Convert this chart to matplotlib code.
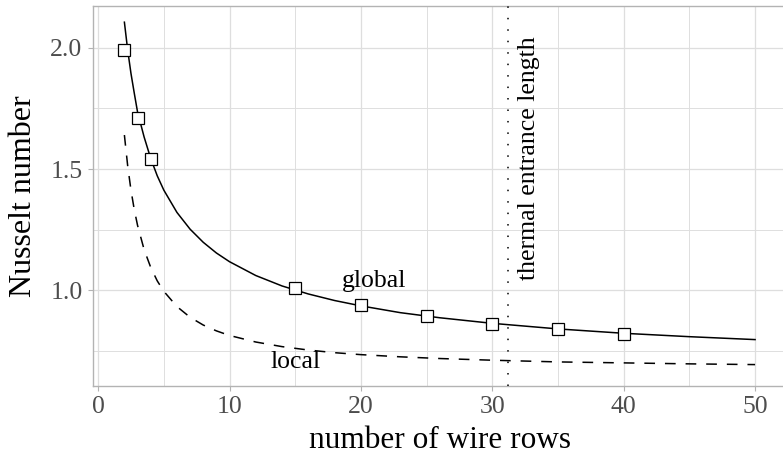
#=======================#
# Libraries importation #
#=======================#

import matplotlib
matplotlib.use("Agg")
import matplotlib.pyplot as plt
from matplotlib.ticker import MultipleLocator, FormatStrFormatter

#==================#
# Global variables #
#==================#

GRID_COLOR = "#DEDEDE"
BORDER_COLOR = "#B3B3B3"
TICK_LABEL_COLOR = "#4D4D4D"

plt.rcParams["font.family"] = ["Liberation Serif", "DejaVu Serif"]

# Fitted curves
fit_rows = [2, 2.25, 2.5, 2.75, 3, 3.5, 4, 4.5, 5, 6, 7, 8, 9, 10,
            12, 14, 16, 18, 20, 23, 26, 30, 35, 40, 45, 50]
nu_global_fit = [2.105, 1.990, 1.894, 1.813, 1.735, 1.632, 1.544, 1.472, 1.413,
                 1.321, 1.252, 1.198, 1.154, 1.118, 1.061, 1.018, 0.985, 0.958,
                 0.936, 0.908, 0.887, 0.864, 0.841, 0.823, 0.809, 0.797]
nu_local_fit = [1.640, 1.513, 1.413, 1.333, 1.268, 1.168, 1.095, 1.039, 0.996,
                0.933, 0.889, 0.857, 0.833, 0.814, 0.787, 0.768, 0.754, 0.743,
                0.735, 0.726, 0.719, 0.712, 0.705, 0.701, 0.697, 0.694]

# Simulated global Nusselt numbers
sim_rows = [2, 3, 4, 15, 20, 25, 30, 35, 40]
nu_global_sim = [1.99, 1.71, 1.54, 1.01, 0.94, 0.893, 0.863, 0.840, 0.822]

entrance_length = 31.2

#==========#
# Plotting #
#==========#

fig = plt.figure(figsize=(7.83, 4.59), dpi=100)
ax = fig.add_axes([0.1186, 0.1597, 0.886, 0.8279])

ax.plot(fit_rows, nu_global_fit, color="black", linewidth=1.1, zorder=3)
ax.plot(fit_rows, nu_local_fit, color="black", linewidth=1.1,
        dashes=(7, 6.5), zorder=3)
ax.plot(sim_rows, nu_global_sim, linestyle="none", marker="s", markersize=8.4,
        markerfacecolor="white", markeredgecolor="black", markeredgewidth=0.9,
        zorder=4)
ax.axvline(entrance_length, color="black", linewidth=1.1, dashes=(1, 6.5),
           zorder=3)

ax.text(21, 1.015, "global", fontsize=18.5, ha="center", va="baseline")
ax.text(15, 0.678, "local", fontsize=18.5, ha="center", va="baseline")
ax.text(33.24, 1.545, "thermal entrance length", fontsize=18.5, rotation=90,
        rotation_mode="anchor", ha="center", va="baseline")

ax.set_xlim(-0.4, 52.4)
ax.set_ylim(0.607, 2.173)
ax.xaxis.set_major_locator(MultipleLocator(10))
ax.xaxis.set_minor_locator(MultipleLocator(5))
ax.yaxis.set_major_locator(MultipleLocator(0.5))
ax.yaxis.set_minor_locator(MultipleLocator(0.25))
ax.yaxis.set_major_formatter(FormatStrFormatter("%.1f"))

ax.grid(which="major", color=GRID_COLOR, linewidth=0.9, zorder=0)
ax.grid(which="minor", color=GRID_COLOR, linewidth=0.7, zorder=0)
ax.set_axisbelow(True)

for spine in ax.spines.values():
    spine.set_color(BORDER_COLOR)
    spine.set_linewidth(1.0)

ax.tick_params(which="major", length=3.5, width=0.8, color=BORDER_COLOR,
               labelcolor=TICK_LABEL_COLOR, labelsize=18.5, pad=4)
ax.tick_params(which="minor", length=0)

ax.set_xlabel("number of wire rows", fontsize=22.5, labelpad=6)
ax.set_ylabel("Nusselt number", fontsize=23, labelpad=9)

fig.savefig("out.png", dpi=100)
